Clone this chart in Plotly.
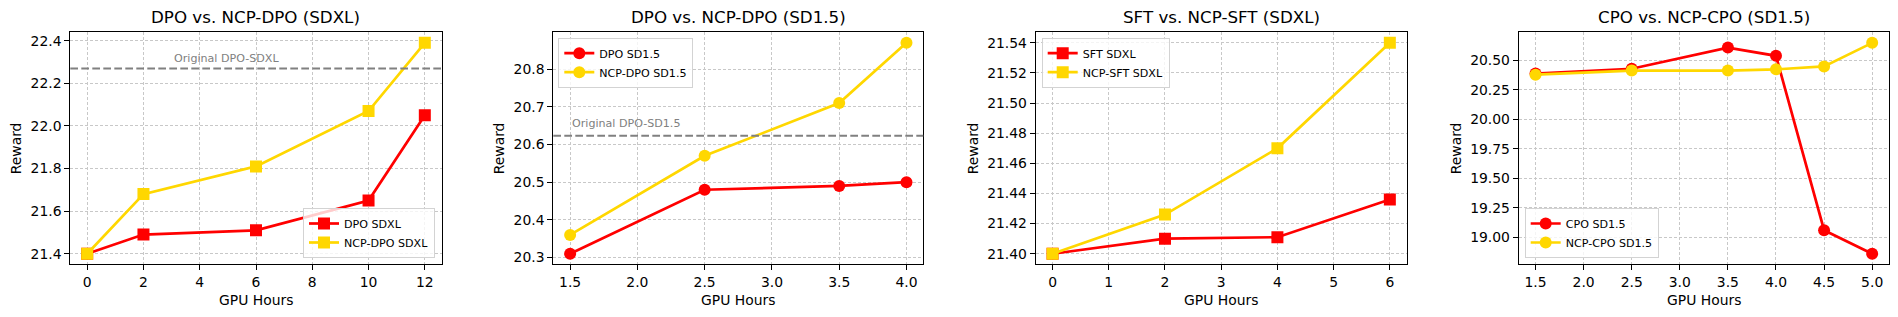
import plotly.graph_objects as go
from plotly.subplots import make_subplots

# ---------------- data ----------------
p1_x = [0, 2, 6, 10, 12]
p1_dpo = [21.40, 21.49, 21.51, 21.65, 22.05]
p1_ncp = [21.40, 21.68, 21.81, 22.07, 22.39]
p1_baseline = 22.27

p2_x = [1.5, 2.5, 3.5, 4.0]
p2_dpo = [20.31, 20.48, 20.49, 20.50]
p2_ncp = [20.36, 20.57, 20.71, 20.87]
p2_baseline = 20.623

p3_x = [0, 2, 4, 6]
p3_sft = [21.400, 21.410, 21.411, 21.436]
p3_ncp = [21.400, 21.426, 21.470, 21.540]

p4_x = [1.5, 2.5, 3.5, 4.0, 4.5, 5.0]
p4_cpo = [20.39, 20.43, 20.61, 20.54, 19.06, 18.86]
p4_ncp = [20.38, 20.415, 20.415, 20.425, 20.45, 20.65]

titles = ["DPO vs. NCP-DPO (SDXL)", "DPO vs. NCP-DPO (SD1.5)",
          "SFT vs. NCP-SFT (SDXL)", "CPO vs. NCP-CPO (SD1.5)"]
p1_names = ["DPO SDXL", "NCP-DPO SDXL"]
p2_names = ["DPO SD1.5", "NCP-DPO SD1.5"]
p3_names = ["SFT SDXL", "NCP-SFT SDXL"]
p4_names = ["CPO SD1.5", "NCP-CPO SD1.5"]
baseline_labels = ["Original DPO-SDXL", "Original DPO-SD1.5"]

# ---------------- style ----------------
OFF = 8                      # page body margin
W, H = 1898 - 2 * OFF, 317 - 2 * OFF
RED = "#ff0000"
GOLD = "#ffd700"
FONT = "DejaVu Sans"

def px(v):
    return (v - OFF) / W

def py(v):
    return 1 - (v - OFF) / H

x_px = [(70.3, 441.7), (553.3, 923.3), (1035.7, 1406.7), (1518.7, 1889.0)]
y_top, y_bot = 32.3, 264.3
ydom = [py(y_bot), py(y_top)]

fig = make_subplots(rows=1, cols=4)

def add_pair(col, x, y1, y2, names, symbol, legend):
    for y, name, color in ((y1, names[0], RED), (y2, names[1], GOLD)):
        fig.add_trace(go.Scatter(
            x=x, y=y, name=name, mode="lines+markers",
            line=dict(color=color, width=2.7),
            marker=dict(color=color, size=12, symbol=symbol),
            legend=legend), row=1, col=col)

add_pair(1, p1_x, p1_dpo, p1_ncp, p1_names, "square", "legend")
add_pair(2, p2_x, p2_dpo, p2_ncp, p2_names, "circle", "legend2")
add_pair(3, p3_x, p3_sft, p3_ncp, p3_names, "square", "legend3")
add_pair(4, p4_x, p4_cpo, p4_ncp, p4_names, "circle", "legend4")

def pad(lo, hi):
    m = (hi - lo) * 0.05
    return [lo - m, hi + m]

x_ranges = [pad(min(p1_x), max(p1_x)), pad(min(p2_x), max(p2_x)),
            pad(min(p3_x), max(p3_x)), pad(min(p4_x), max(p4_x))]
y_ranges = [pad(min(p1_dpo + p1_ncp), max(p1_dpo + p1_ncp)),
            pad(min(p2_dpo + p2_ncp), max(p2_dpo + p2_ncp)),
            pad(min(p3_sft + p3_ncp), max(p3_sft + p3_ncp)),
            pad(min(p4_cpo + p4_ncp), max(p4_cpo + p4_ncp))]
x_ticks = [dict(tick0=0, dtick=2, tickformat="d"),
           dict(tick0=1.5, dtick=0.5, tickformat=".1f"),
           dict(tick0=0, dtick=1, tickformat="d"),
           dict(tick0=1.5, dtick=0.5, tickformat=".1f")]
y_ticks = [dict(tick0=21.4, dtick=0.2, tickformat=".1f"),
           dict(tick0=20.3, dtick=0.1, tickformat=".1f"),
           dict(tick0=21.4, dtick=0.02, tickformat=".2f"),
           dict(tick0=19.0, dtick=0.25, tickformat=".2f")]

axis_common = dict(showline=True, linecolor="black", linewidth=1, mirror=True,
                   ticks="outside", ticklen=5, tickwidth=1, tickcolor="black",
                   showgrid=True, gridcolor="#c8c8c8", gridwidth=0.6,
                   griddash="3px,2px", zeroline=False,
                   tickfont=dict(family=FONT, size=13.9, color="black"))

for i in range(4):
    xa = "xaxis" if i == 0 else f"xaxis{i+1}"
    ya = "yaxis" if i == 0 else f"yaxis{i+1}"
    fig.layout[xa].update(domain=[px(x_px[i][0]), px(x_px[i][1])],
                          range=x_ranges[i], tickmode="linear", **x_ticks[i], **axis_common)
    fig.layout[ya].update(domain=ydom, range=y_ranges[i], tickmode="linear",
                          **y_ticks[i], **axis_common)
    cx = (px(x_px[i][0]) + px(x_px[i][1])) / 2
    fig.add_annotation(text=titles[i], xref="paper", yref="paper", x=cx, y=py(17),
                       xanchor="center", yanchor="middle", showarrow=False,
                       font=dict(family=FONT, size=16.7, color="black"))
    fig.add_annotation(text="GPU Hours", xref="paper", yref="paper", x=cx, y=py(299.5),
                       xanchor="center", yanchor="middle", showarrow=False,
                       font=dict(family=FONT, size=13.9, color="black"))

ylab_x = [16, 499, 973, 1456]
for i in range(4):
    fig.add_annotation(text="Reward", xref="paper", yref="paper", x=px(ylab_x[i]),
                       y=(ydom[0] + ydom[1]) / 2, xanchor="center", yanchor="middle",
                       textangle=-90, showarrow=False,
                       font=dict(family=FONT, size=13.9, color="black"))

# baselines
dash = "7.7px,3.3px"
fig.add_hline(y=p1_baseline, line=dict(color="#808080", width=2, dash=dash), row=1, col=1)
fig.add_hline(y=p2_baseline, line=dict(color="#808080", width=2, dash=dash), row=1, col=2)
fig.add_annotation(text=baseline_labels[0], x=3, y=p1_baseline + 0.045, xref="x", yref="y",
                   xanchor="left", yanchor="middle", showarrow=False,
                   font=dict(family=FONT, size=11.1, color="#808080"))
fig.add_annotation(text=baseline_labels[1], x=1.5, y=p2_baseline + 0.034, xref="x2", yref="y2",
                   xanchor="left", yanchor="middle", showarrow=False,
                   font=dict(family=FONT, size=11.1, color="#808080"))

leg_common = dict(bgcolor="rgba(255,255,255,0.8)", bordercolor="#d3d3d3", borderwidth=1,
                  font=dict(family=FONT, size=11.1, color="black"),
                  itemwidth=30, tracegroupgap=0)
fig.update_layout(
    width=W, height=H, margin=dict(l=0, r=0, t=0, b=0),
    plot_bgcolor="white", paper_bgcolor="white",
    legend=dict(x=px(435), y=py(258), xanchor="right", yanchor="bottom", **leg_common),
    legend2=dict(x=px(558.3), y=py(37.7), xanchor="left", yanchor="top", **leg_common),
    legend3=dict(x=px(1041.7), y=py(37.7), xanchor="left", yanchor="top", **leg_common),
    legend4=dict(x=px(1524.7), y=py(258), xanchor="left", yanchor="bottom", **leg_common),
)

fig.write_html("out.html")
